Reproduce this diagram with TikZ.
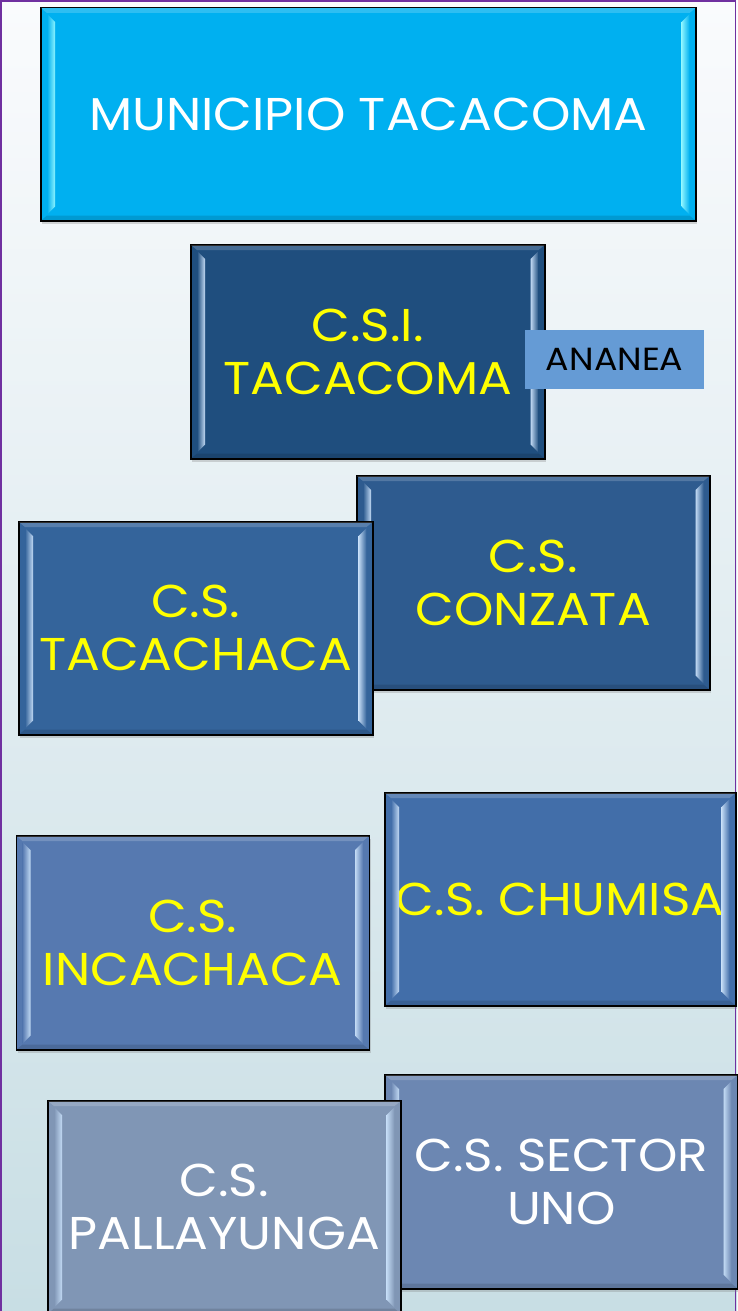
\documentclass[tikz,border=0pt]{standalone}
\usepackage{fontspec}
\setmainfont{Poppins}[FakeStretch=1.09]
\usetikzlibrary{calc,shadows}
\definecolor{bgtop}{HTML}{FAFBFD}
\definecolor{bgbot}{HTML}{C8DEE4}
\definecolor{framepurple}{HTML}{7030A0}
\definecolor{cmuni}{HTML}{00B0F0}
\definecolor{ccsi}{HTML}{1F4E7E}
\definecolor{cconz}{HTML}{2E5B8F}
\definecolor{ctaca}{HTML}{34649B}
\definecolor{cinca}{HTML}{5679B0}
\definecolor{cchum}{HTML}{426EA9}
\definecolor{csect}{HTML}{6C87B2}
\definecolor{cpall}{HTML}{8096B5}
\definecolor{cananea}{HTML}{659BD5}
\definecolor{lightcyan}{HTML}{8CF4FF}
\definecolor{lightblue}{HTML}{C2DAF4}
\definecolor{txtyellow}{HTML}{FFFF00}
\newcommand\bevelbox[3]{% name, fill colour, light colour
  \shade[left color=#2, right color=#3]
    ($(#1.north west)+(7pt,-7pt)$) -- ($(#1.north west)+(15pt,-15pt)$) --
    ($(#1.south west)+(15pt,15pt)$) -- ($(#1.south west)+(7pt,7pt)$) -- cycle;
  \shade[left color=#3, right color=#2]
    ($(#1.north east)+(-15pt,-15pt)$) -- ($(#1.north east)+(-7pt,-7pt)$) --
    ($(#1.south east)+(-7pt,7pt)$) -- ($(#1.south east)+(-15pt,15pt)$) -- cycle;
  \fill[white, opacity=0.18]
    ($(#1.north west)+(1pt,-1pt)$) -- ($(#1.north east)+(-1pt,-1pt)$) --
    ($(#1.north east)+(-7pt,-6pt)$) -- ($(#1.north west)+(7pt,-6pt)$) -- cycle;
  \fill[black, opacity=0.12]
    ($(#1.south west)+(1pt,1pt)$) -- ($(#1.south east)+(-1pt,1pt)$) --
    ($(#1.south east)+(-7pt,6pt)$) -- ($(#1.south west)+(7pt,6pt)$) -- cycle;
}
\tikzset{
  orgbox/.style={draw=black, line width=1.5pt, align=center, inner sep=0pt,
    anchor=north west, text=txtyellow,
    font=\fontsize{46pt}{53pt}\selectfont,
    drop shadow={opacity=0.3, shadow xshift=1.5pt, shadow yshift=-3pt}},
  tagbox/.style={fill=cananea, inner sep=0pt, anchor=north west, text=black,
    font=\fontsize{32pt}{38pt}\selectfont}
}
\begin{document}
\begin{tikzpicture}[x=1pt,y=-1pt]
\useasboundingbox (0,0) rectangle (737,1311);
\shade[top color=bgtop, bottom color=bgbot] (0,0) rectangle (737,1311);
\draw[framepurple, line width=1.6pt] (0.8,0.8) rectangle (735.6,1320);

\node[orgbox, fill=cmuni, text=white, minimum width=655pt, minimum height=213pt] (muni) at (40,7) {MUNICIPIO TACACOMA};
\bevelbox{muni}{cmuni}{lightcyan}

\node[orgbox, fill=ccsi, minimum width=354pt, minimum height=214pt] (csi) at (190,244) {C.S.I.\\TACACOMA};
\bevelbox{csi}{ccsi}{lightblue}

\node[tagbox, minimum width=179pt, minimum height=59pt] (ananea) at (525,330) {ANANEA};

\node[orgbox, fill=cconz, minimum width=353pt, minimum height=214pt] (conz) at (356,475) {C.S.\\CONZATA};
\bevelbox{conz}{cconz}{lightblue}

\node[orgbox, fill=ctaca, minimum width=354pt, minimum height=213pt] (taca) at (18,521) {C.S.\\TACACHACA};
\bevelbox{taca}{ctaca}{lightblue}

\node[orgbox, fill=cchum, minimum width=351pt, minimum height=213pt] (chum) at (384,792) {C.S. CHUMISA};
\bevelbox{chum}{cchum}{lightblue}

\node[orgbox, fill=cinca, minimum width=353pt, minimum height=214pt] (inca) at (15.5,835) {C.S.\\INCACHACA};
\bevelbox{inca}{cinca}{lightblue}

\node[orgbox, fill=csect, text=white, minimum width=353pt, minimum height=214pt] (sect) at (384,1074) {C.S. SECTOR\\UNO};
\bevelbox{sect}{csect}{lightblue}

\node[orgbox, fill=cpall, text=white, minimum width=353pt, minimum height=213pt] (pall) at (47,1100) {C.S.\\PALLAYUNGA};
\bevelbox{pall}{cpall}{lightblue}
\end{tikzpicture}
\end{document}
